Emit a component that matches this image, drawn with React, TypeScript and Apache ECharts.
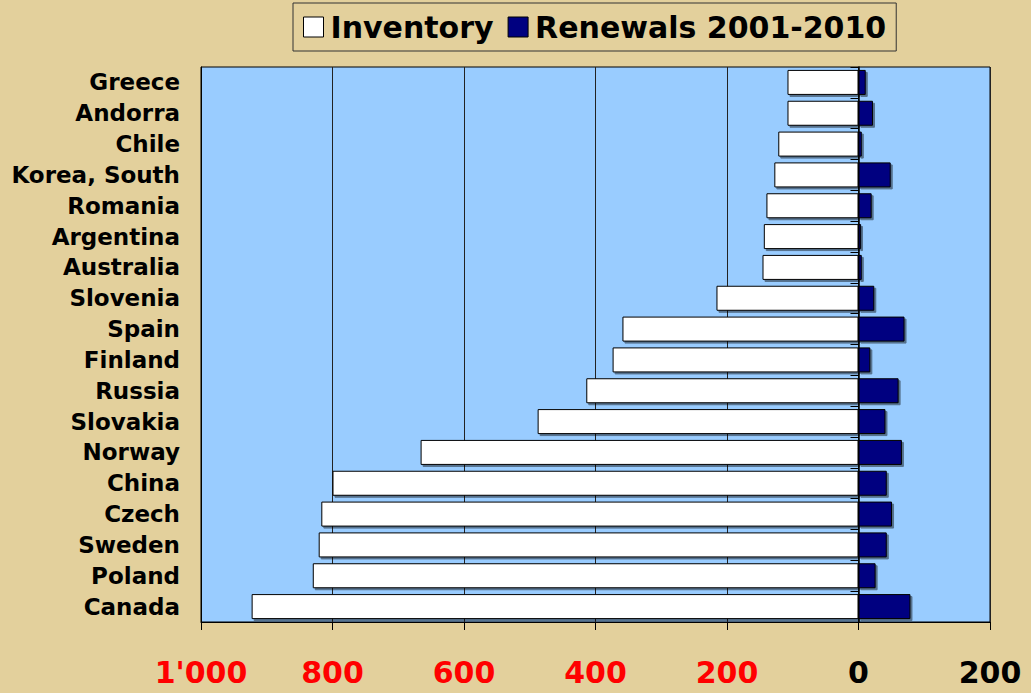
import React, { useEffect, useRef } from "react";
import * as echarts from "echarts";

const countries = [
  "Canada", "Poland", "Sweden", "Czech", "China", "Norway", "Slovakia", "Russia", "Finland",
  "Spain", "Slovenia", "Australia", "Argentina", "Romania", "Korea, South", "Chile", "Andorra", "Greece",
];
const inventory = [923, 830, 821, 817, 800, 666, 488, 414, 374, 359, 216, 146, 144, 140, 128, 122, 108, 108];
const renewals = [79, 26, 43, 51, 43, 66, 41, 61, 18, 70, 24, 5, 4, 20, 49, 5, 22, 11];
const xTicks = [-1000, -800, -600, -400, -200, 0, 200];

const FONT = "Tahoma, 'DejaVu Sans', sans-serif";

export default function App() {
  const ref = useRef<HTMLDivElement>(null);
  useEffect(() => {
    const chart = echarts.init(ref.current!, null, { renderer: "svg" });
    const shadow = { shadowColor: "rgba(0,0,0,0.45)", shadowOffsetX: 2, shadowOffsetY: 2, shadowBlur: 1 };
    chart.setOption({
      animation: false,
      backgroundColor: "#E3D09C",
      textStyle: { fontFamily: FONT },
      legend: {
        left: 293,
        top: 3,
        padding: [9, 10, 9, 10],
        borderColor: "#333",
        borderWidth: 1,
        backgroundColor: "#E3D09C",
        icon: "rect",
        itemWidth: 20,
        itemHeight: 20,
        itemGap: 14,
        textStyle: { fontSize: 30, fontWeight: "bold", color: "#000", fontFamily: FONT, padding: [0, 0, 0, 2] },
        data: [
          { name: "Inventory", itemStyle: { color: "#fff", borderColor: "#000", borderWidth: 1 } },
          { name: "Renewals 2001-2010", itemStyle: { color: "#000080", borderColor: "#000", borderWidth: 1 } },
        ],
      },
      grid: {
        left: 201,
        right: 41,
        top: 67,
        bottom: 71,
        show: true,
        backgroundColor: "#99CCFF",
        borderColor: "#000",
        borderWidth: 1,
      },
      xAxis: {
        type: "value",
        min: xTicks[0],
        max: xTicks[xTicks.length - 1],
        interval: 200,
        axisLine: { show: true, onZero: false, lineStyle: { color: "#000" } },
        axisTick: { show: true, length: 8, lineStyle: { color: "#000" } },
        splitLine: { show: true, lineStyle: { color: "#222", width: 1 } },
        axisLabel: {
          margin: 35,
          fontSize: 30,
          fontWeight: "bold",
          fontFamily: FONT,
          color: (v: any) => (Number(v) < 0 ? "#FF0000" : "#000"),
          formatter: (v: number) => {
            const a = Math.abs(v);
            return a >= 1000 ? `${Math.floor(a / 1000)}'${String(a % 1000).padStart(3, "0")}` : String(a);
          },
        },
      },
      yAxis: [
        {
          type: "category",
          data: countries,
          position: "left",
          axisLine: { show: true, onZero: false, lineStyle: { color: "#000" } },
          axisTick: { show: false },
          axisLabel: {
            margin: 21,
            fontSize: 23,
            fontWeight: "bold",
            color: "#000",
            fontFamily: FONT,
            padding: [6, 0, 0, 0],
          },
        },
        {
          type: "category",
          data: countries,
          position: "left",
          axisLine: { show: true, onZero: true, lineStyle: { color: "#000", width: 1.5 } },
          axisTick: { show: true, length: 8, lineStyle: { color: "#000" } },
          axisLabel: { show: false },
        },
      ],
      series: [
        {
          name: "Inventory",
          type: "bar",
          yAxisIndex: 0,
          data: inventory.map((v) => -v),
          barWidth: 25,
          barGap: "-100%",
          itemStyle: { color: "#fff", borderColor: "#000", borderWidth: 1, ...shadow },
        },
        {
          name: "Renewals 2001-2010",
          type: "bar",
          yAxisIndex: 0,
          data: renewals,
          barWidth: 25,
          barGap: "-100%",
          itemStyle: { color: "#000080", borderColor: "#000", borderWidth: 1, ...shadow },
        },
      ],
    });
    return () => chart.dispose();
  }, []);
  return <div ref={ref} style={{ position: "fixed", left: 0, top: 0, width: 1031, height: 693 }} />;
}
